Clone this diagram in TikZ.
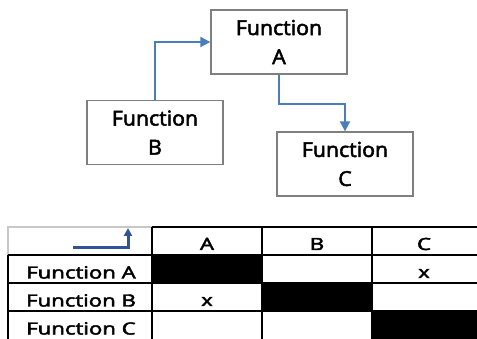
\documentclass[tikz,border=0pt]{standalone}
\usepackage{fontspec}
\setmainfont{Open Sans}
\newfontfamily\heavyfont{Open Sans}[FakeBold=2.5]
\usetikzlibrary{arrows.meta}
\definecolor{arrowblue}{HTML}{4A7EBB}
\definecolor{darkblue}{HTML}{2F5597}
\definecolor{boxgray}{HTML}{7F7F7F}
\definecolor{lightgray}{HTML}{C8C8C8}
\newcommand{\bx}[1]{\scalebox{1.04}[1]{#1}}
\newcommand{\tx}[1]{\scalebox{1.32}[1]{#1}}
\begin{document}
\begin{tikzpicture}[x=1pt,y=-1pt,
  fbox/.style={draw=boxgray, line width=1.3pt, minimum width=136pt, minimum height=64pt,
    inner sep=0pt, align=center, font=\heavyfont\fontsize{20.5}{29}\selectfont},
  conn/.style={draw=arrowblue, line width=1.8pt, -{Triangle[length=10pt,width=10pt]}},
  tline/.style={line width=1.3pt, black},
  ttext/.style={anchor=base, inner sep=0pt, font=\heavyfont\fontsize{16.8}{18}\selectfont}]
\useasboundingbox (0,0) rectangle (477,339);
% flow diagram
\node[fbox] (A) at (279,42) {\bx{Function}\\\bx{A}};
\node[fbox] (B) at (155,132.5) {\bx{Function}\\\bx{B}};
\node[fbox] (C) at (345,164) {\bx{Function}\\\bx{C}};
\draw[conn] (B.north) |- (A.west);
\draw[conn] (A.south) -- ++(0,29) -| (C.north);
% table fills
\fill[black] (152,255) rectangle (262,283);
\fill[black] (262,283) rectangle (372,311);
\fill[black] (372,311) rectangle (477,339);
% table lines
\draw[lightgray, line width=1.3pt] (8,255) -- (8,227) -- (152,227);
\draw[tline] (152,227) -- (477,227);
\draw[tline] (8,255) -- (477,255);
\draw[tline] (8,283) -- (477,283);
\draw[tline] (8,311) -- (477,311);
\draw[tline] (8,255) -- (8,339);
\draw[black, line width=2.2pt] (152,227) -- (152,339);
\draw[tline] (262,227) -- (262,339);
\draw[tline] (372,227) -- (372,339);
% header arrow
\coordinate (ha1) at (73,248);
\coordinate (ha2) at (128,228);
\draw[darkblue, line width=3pt, -{Triangle[length=8pt,width=8pt]}] (ha1) -| (ha2);
% header texts
\node[ttext] (hA) at (207,250) {\tx{A}};
\node[ttext] (hB) at (317,250) {\tx{B}};
\node[ttext] (hC) at (424,250) {\tx{C}};
\node[ttext] (rA) at (81,278.5) {\tx{Function A}};
\node[ttext] (rB) at (81,306.5) {\tx{Function B}};
\node[ttext] (rC) at (81,334.5) {\tx{Function C}};
\node[ttext] (x1) at (424,278) {\tx{x}};
\node[ttext] (x2) at (207,306) {\tx{x}};
\end{tikzpicture}
\end{document}
